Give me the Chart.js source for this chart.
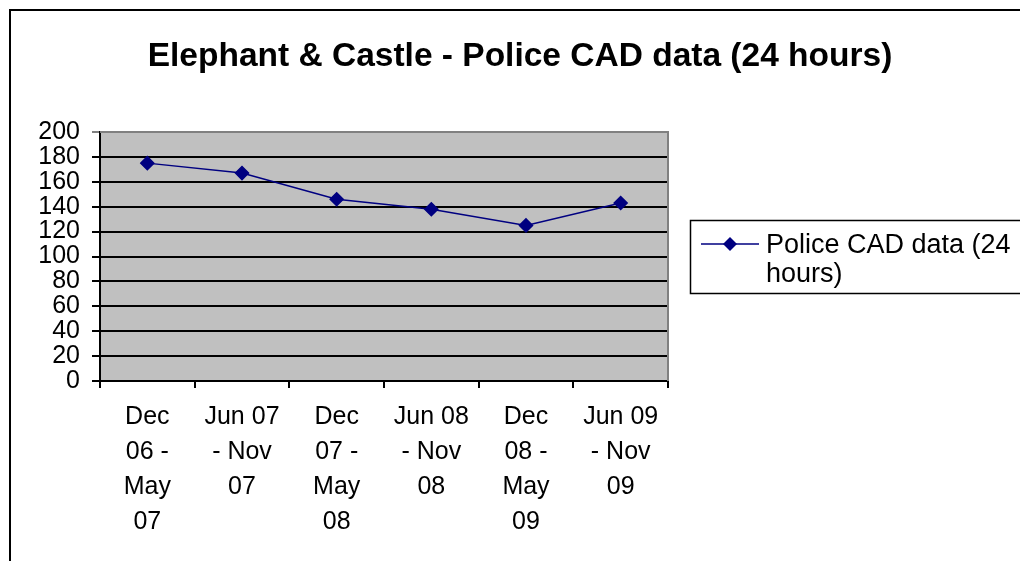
<!DOCTYPE html>
<html>
<head>
    <title>Elephant & Castle - Police CAD data</title>
    <script src="https://cdn.jsdelivr.net/npm/chart.js@4.4.0/dist/chart.umd.min.js"></script>
    <style>
        body { margin: 0; background: #fff; }
        #wrap { width: 1020px; height: 561px; }
    </style>
</head>
<body>
    <div id="wrap"><canvas id="cadChart" width="1020" height="561"></canvas></div>

    <script>
        const chartTitle = 'Elephant & Castle - Police CAD data (24 hours)';
        const seriesName = 'Police CAD data (24 hours)';
        const periods = [
            ['Dec', '06 -', 'May', '07'],
            ['Jun 07', '- Nov', '07'],
            ['Dec', '07 -', 'May', '08'],
            ['Jun 08', '- Nov', '08'],
            ['Dec', '08 -', 'May', '09'],
            ['Jun 09', '- Nov', '09']
        ];
        const cadCounts = [175, 167, 146, 138, 125, 143];

        const FONT = "'Liberation Sans', Arial, sans-serif";
        const NAVY = '#000080';

        // frame, title, plot background and legend box
        const decorPlugin = {
            id: 'decor',
            beforeDraw: function(chart) {
                const ctx = chart.ctx;
                const a = chart.chartArea;
                ctx.save();
                ctx.fillStyle = '#c0c0c0';
                ctx.fillRect(a.left, a.top, a.right - a.left, a.bottom - a.top);
                ctx.restore();
            },
            afterDraw: function(chart) {
                const ctx = chart.ctx;
                const a = chart.chartArea;
                ctx.save();
                // plot border top/right
                ctx.strokeStyle = '#808080';
                ctx.lineWidth = 2;
                ctx.beginPath();
                ctx.moveTo(a.left, a.top);
                ctx.lineTo(a.right, a.top);
                ctx.lineTo(a.right, a.bottom);
                ctx.stroke();

                // outer frame
                ctx.strokeStyle = '#000';
                ctx.lineWidth = 2;
                ctx.strokeRect(10, 10, 1040, 600);

                // title
                ctx.fillStyle = '#000';
                ctx.font = 'bold 33.5px ' + FONT;
                ctx.textAlign = 'center';
                ctx.textBaseline = 'alphabetic';
                ctx.fillText(chartTitle, 520, 66);

                // legend
                ctx.lineWidth = 1.5;
                ctx.strokeRect(690.5, 220.5, 360, 73);
                ctx.strokeStyle = NAVY;
                ctx.lineWidth = 1.5;
                ctx.beginPath();
                ctx.moveTo(701, 244);
                ctx.lineTo(759, 244);
                ctx.stroke();
                ctx.fillStyle = NAVY;
                ctx.beginPath();
                ctx.moveTo(730, 237);
                ctx.lineTo(737, 244);
                ctx.lineTo(730, 251);
                ctx.lineTo(723, 244);
                ctx.closePath();
                ctx.fill();
                ctx.fillStyle = '#000';
                ctx.font = '27px ' + FONT;
                ctx.textAlign = 'left';
                ctx.fillText('Police CAD data (24', 766, 253);
                ctx.fillText('hours)', 766, 282);
                ctx.restore();
            }
        };

        const ctx = document.getElementById('cadChart').getContext('2d');
        new Chart(ctx, {
            type: 'line',
            data: {
                labels: periods,
                datasets: [{
                    label: seriesName,
                    data: cadCounts,
                    borderColor: NAVY,
                    backgroundColor: NAVY,
                    borderWidth: 1.5,
                    pointStyle: 'rectRot',
                    pointRadius: 6.5,
                    pointHoverRadius: 6.5,
                    tension: 0
                }]
            },
            options: {
                responsive: false,
                animation: false,
                devicePixelRatio: 1,
                layout: { padding: { top: 132, right: 352, left: 0, bottom: 0 } },
                plugins: {
                    legend: { display: false },
                    title: { display: false },
                    tooltip: { enabled: false }
                },
                scales: {
                    x: {
                        offset: true,
                        grid: {
                            offset: true,
                            drawOnChartArea: false,
                            drawTicks: true,
                            tickLength: 7,
                            color: '#000',
                            lineWidth: 2
                        },
                        border: { color: '#000', width: 2 },
                        ticks: {
                            color: '#000',
                            padding: 12,
                            maxRotation: 0,
                            autoSkip: false,
                            font: { family: FONT, size: 25, lineHeight: 1.4 }
                        },
                        afterFit: function(scale) { scale.height = 180; }
                    },
                    y: {
                        min: 0,
                        max: 200,
                        grid: {
                            color: function(c) { return c.tick && c.tick.value === 200 ? '#808080' : '#000'; },
                            lineWidth: 2,
                            tickLength: 8,
                            drawTicks: true
                        },
                        border: { color: '#000', width: 2 },
                        ticks: {
                            stepSize: 20,
                            autoSkip: false,
                            color: '#000',
                            padding: 12,
                            font: { family: FONT, size: 25, lineHeight: 1 }
                        },
                        afterFit: function(scale) { scale.width = 100; }
                    }
                }
            },
            plugins: [decorPlugin]
        });
    </script>
</body>
</html>
